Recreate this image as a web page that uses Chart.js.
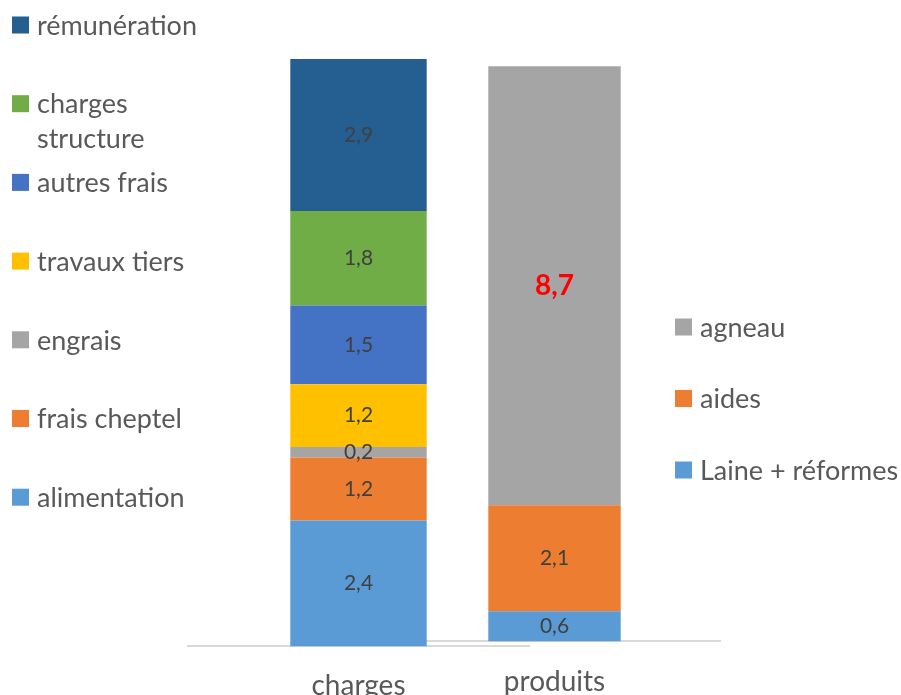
<!DOCTYPE html>
<html>
<head>
<meta charset="utf-8">
<script src="https://cdn.jsdelivr.net/npm/chart.js@4.4.0/dist/chart.umd.min.js"></script>
<style>
  html, body { margin: 0; padding: 0; background: #fff; overflow: hidden; }
  .layer { position: absolute; left: 0; top: 0; }
</style>
</head>
<body>
<div class="layer"><canvas id="produitsChart" width="901" height="740"></canvas></div>
<div class="layer"><canvas id="chargesChart" width="901" height="740"></canvas></div>
<script>
// données
const chargeCategory = ['charges'];
const chargeNames = ['alimentation', 'frais cheptel', 'engrais', 'travaux tiers', 'autres frais', 'charges structure', 'rémunération'];
const chargeValues = [2.4, 1.2, 0.2, 1.2, 1.5, 1.8, 2.9];
const chargeColors = ['#5B9BD5', '#ED7D31', '#A5A5A5', '#FFC000', '#4472C4', '#70AD47', '#255E91'];

const produitCategory = ['produits'];
const produitNames = ['Laine + réformes', 'aides', 'agneau'];
const produitValues = [0.6, 2.1, 8.7];
const produitColors = ['#5B9BD5', '#ED7D31', '#A5A5A5'];

const FONT = 'Lato, "Open Sans", sans-serif';
const TEXT = '#595959';

// legende a la main : espacement regulier, retour a la ligne si trop long
const sideLegend = {
  id: 'sideLegend',
  afterDraw(chart, args, opts) {
    const ctx = chart.ctx;
    const ds = chart.data.datasets.slice().reverse();
    ctx.save();
    ctx.font = opts.fontSize + 'px ' + FONT;
    ctx.textBaseline = 'middle';
    ds.forEach((d, i) => {
      const y = opts.top + i * opts.step;
      ctx.fillStyle = d.backgroundColor;
      ctx.fillRect(opts.x, y - opts.box / 2, opts.box, opts.box);
      ctx.fillStyle = TEXT;
      // word wrap
      const words = d.label.split(' ');
      let lines = [], cur = '';
      words.forEach(w => {
        const t = cur ? cur + ' ' + w : w;
        if (cur && ctx.measureText(t).width > opts.maxWidth) { lines.push(cur); cur = w; }
        else cur = t;
      });
      lines.push(cur);
      lines.forEach((l, k) => ctx.fillText(l, opts.x + opts.box + 8, y + 1 + k * opts.lineStep));
    });
    ctx.restore();
  }
};

// valeurs au milieu des segments
const valueLabels = {
  id: 'valueLabels',
  afterDatasetsDraw(chart, args, opts) {
    const ctx = chart.ctx;
    ctx.save();
    ctx.textAlign = 'center';
    ctx.textBaseline = 'middle';
    chart.data.datasets.forEach((d, i) => {
      const meta = chart.getDatasetMeta(i);
      meta.data.forEach((bar, j) => {
        const v = d.data[j];
        const big = opts.highlight && opts.highlight === d.label;
        ctx.font = (big ? 'bold 28px ' : '21px ') + FONT;
        ctx.fillStyle = big ? '#FF0000' : '#404040';
        const y = (bar.y + bar.base) / 2;
        ctx.fillText(v.toFixed(1).replace('.', ','), bar.x, y);
      });
    });
    ctx.restore();
  }
};

function makeChart(id, category, names, values, colors, pad, tickPad, yMax, legendOpts, highlight) {
  return new Chart(document.getElementById(id), {
    type: 'bar',
    data: {
      labels: category,
      datasets: names.map((n, i) => ({
        label: n,
        data: [values[i]],
        backgroundColor: colors[i],
        barPercentage: 0.5,
        categoryPercentage: 0.8
      }))
    },
    options: {
      responsive: false,
      animation: false,
      layout: { padding: pad },
      plugins: {
        legend: { display: false },
        tooltip: { enabled: false },
        sideLegend: legendOpts,
        valueLabels: { highlight: highlight }
      },
      scales: {
        x: {
          stacked: true,
          grid: { display: false, drawTicks: false },
          border: { display: true, color: '#D9D9D9', width: 2 },
          ticks: { color: TEXT, font: { family: FONT, size: 28 }, padding: tickPad }
        },
        y: { stacked: true, display: false, min: 0, max: yMax }
      }
    },
    plugins: [sideLegend, valueLabels]
  });
}

makeChart('chargesChart', chargeCategory, chargeNames, chargeValues, chargeColors,
  { left: 188, right: 372, top: 17, bottom: 14 }, 23, 12,
  { x: 12, top: 25, step: 78.7, box: 17, fontSize: 27, maxWidth: 180, lineStep: 35 }, null);

makeChart('produitsChart', produitCategory, produitNames, produitValues, produitColors,
  { left: 389, right: 181, top: 36, bottom: 17 }, 24, 12,
  { x: 675, top: 327, step: 71.5, box: 17, fontSize: 27, maxWidth: 300, lineStep: 35 }, 'agneau');
</script>
</body>
</html>
